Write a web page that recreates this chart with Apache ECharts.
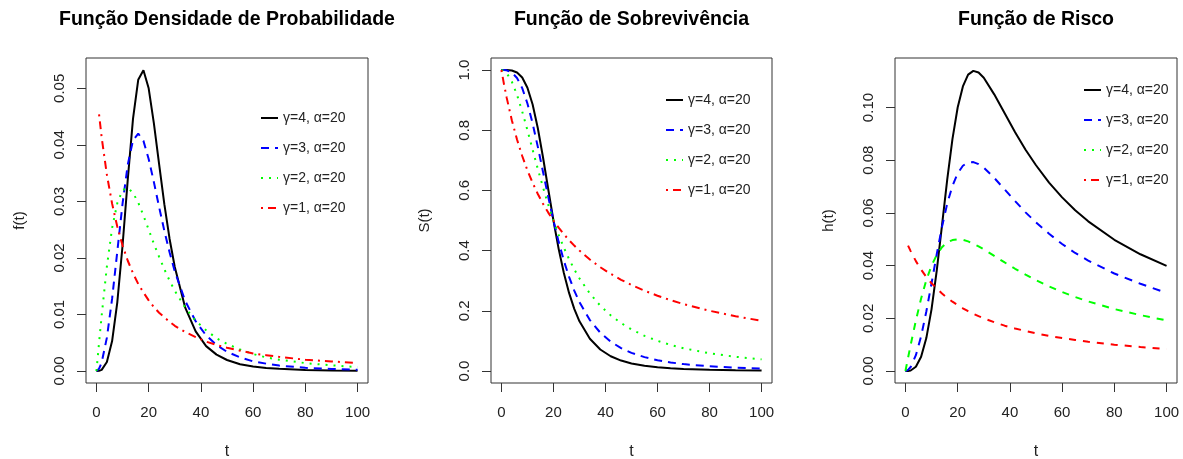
<!DOCTYPE html>
<html>
<head>
<meta charset="utf-8">
<title>Log-logística</title>
<script src="https://cdn.jsdelivr.net/npm/echarts@6/dist/echarts.min.js"></script>
<style>
  html, body { margin: 0; padding: 0; background: #fff; }
  #chart { width: 1183px; height: 459px; }
</style>
</head>
<body>
<div id="chart"></div>
<script>
// t values
const tValues = [0, 1, 2, 4, 6, 8, 10, 12, 14, 16, 18, 20, 22, 24, 26, 28, 30, 34, 38, 42, 46, 50, 55, 60, 65, 70, 80, 90, 100]

const seriesNames = ['γ=4, α=20', 'γ=3, α=20', 'γ=2, α=20', 'γ=1, α=20']

// densidade f(t)
const f4 = [0, 0.000025, 0.0002, 0.0016, 0.0053, 0.0122, 0.0222, 0.0339, 0.0446, 0.0515, 0.0532, 0.05, 0.0438, 0.0366, 0.0295, 0.0234, 0.0184, 0.0112, 0.0070, 0.0044, 0.0029, 0.00195, 0.0012, 0.0008, 0.00054, 0.00038, 0.00019, 0.00011, 0.00006]
const f3 = [0, 0.0004, 0.0015, 0.0059, 0.0128, 0.0212, 0.0296, 0.0365, 0.0408, 0.0420, 0.0407, 0.0375, 0.0334, 0.0290, 0.0248, 0.0210, 0.0176, 0.0124, 0.0088, 0.0063, 0.0046, 0.0034, 0.0024, 0.0017, 0.0013, 0.00096, 0.00057, 0.00036, 0.00023]
const f2 = [0, 0.0050, 0.0098, 0.0185, 0.0253, 0.0297, 0.0320, 0.0324, 0.0315, 0.0298, 0.0275, 0.0250, 0.0225, 0.0202, 0.0180, 0.0160, 0.0142, 0.0112, 0.0089, 0.0072, 0.0058, 0.0048, 0.0038, 0.0030, 0.0024, 0.0020, 0.0014, 0.0010, 0.0007]
const f1 = [null, 0.0454, 0.0413, 0.0347, 0.0296, 0.0255, 0.0222, 0.0195, 0.0173, 0.0154, 0.0139, 0.0125, 0.0113, 0.0103, 0.0095, 0.0087, 0.0080, 0.0069, 0.0060, 0.0052, 0.0046, 0.0041, 0.0036, 0.0031, 0.0028, 0.0025, 0.0020, 0.0017, 0.0014]

// sobrevivencia S(t)
const s4 = [1, 1, 0.9999, 0.9984, 0.9920, 0.9750, 0.9412, 0.8853, 0.8064, 0.7094, 0.6038, 0.5, 0.4058, 0.3254, 0.2593, 0.2065, 0.1649, 0.1069, 0.0713, 0.0489, 0.0345, 0.0250, 0.0172, 0.0122, 0.0089, 0.0066, 0.0039, 0.0024, 0.0016]
const s3 = [1, 0.9999, 0.9990, 0.9921, 0.9737, 0.9398, 0.8889, 0.8224, 0.7446, 0.6614, 0.5784, 0.5, 0.4290, 0.3666, 0.3128, 0.2671, 0.2286, 0.1691, 0.1272, 0.0975, 0.0759, 0.0602, 0.0459, 0.0357, 0.0283, 0.0228, 0.0154, 0.0109, 0.0079]
const s2 = [1, 0.9975, 0.9901, 0.9615, 0.9174, 0.8621, 0.8, 0.7353, 0.6711, 0.6098, 0.5525, 0.5, 0.4525, 0.4098, 0.3717, 0.3378, 0.3077, 0.2571, 0.2169, 0.1848, 0.1590, 0.1379, 0.1168, 0.1, 0.0865, 0.0755, 0.0588, 0.0471, 0.0385]
const s1 = [1, 0.9524, 0.9091, 0.8333, 0.7692, 0.7143, 0.6667, 0.625, 0.5882, 0.5556, 0.5263, 0.5, 0.4762, 0.4545, 0.4348, 0.4167, 0.4, 0.3704, 0.3448, 0.3226, 0.3030, 0.2857, 0.2667, 0.25, 0.2353, 0.2222, 0.2, 0.1818, 0.1667]

// risco h(t)
const h4 = [0, 0.00003, 0.0002, 0.0016, 0.0054, 0.0125, 0.0235, 0.0382, 0.0553, 0.0726, 0.0880, 0.1, 0.1080, 0.1125, 0.1139, 0.1133, 0.1113, 0.1050, 0.0978, 0.0906, 0.0840, 0.0781, 0.0715, 0.0659, 0.0610, 0.0568, 0.0498, 0.0443, 0.0399]
const h3 = [0, 0.0004, 0.0015, 0.0060, 0.0132, 0.0226, 0.0333, 0.0444, 0.0547, 0.0635, 0.0703, 0.075, 0.0779, 0.0792, 0.0793, 0.0785, 0.0772, 0.0733, 0.0689, 0.0645, 0.0602, 0.0564, 0.0521, 0.0482, 0.0448, 0.0419, 0.0370, 0.0331, 0.0296]
const h2 = [0, 0.0050, 0.0099, 0.0192, 0.0275, 0.0345, 0.04, 0.0441, 0.0470, 0.0488, 0.0497, 0.05, 0.0498, 0.0492, 0.0483, 0.0473, 0.0462, 0.0437, 0.0412, 0.0388, 0.0366, 0.0345, 0.0321, 0.03, 0.0281, 0.0264, 0.0235, 0.0212, 0.0192]
const h1 = [null, 0.0476, 0.0455, 0.0417, 0.0385, 0.0357, 0.0333, 0.0313, 0.0294, 0.0278, 0.0263, 0.025, 0.0238, 0.0227, 0.0217, 0.0208, 0.02, 0.0185, 0.0172, 0.0161, 0.0152, 0.0143, 0.0133, 0.0125, 0.0118, 0.0111, 0.01, 0.0091, 0.0083]

// tick labels
const xTicks = [0, 20, 40, 60, 80, 100]
const fTicks = [0, 0.01, 0.02, 0.03, 0.04, 0.05]
const sTicks = [0, 0.2, 0.4, 0.6, 0.8, 1.0]
const hTicks = [0, 0.02, 0.04, 0.06, 0.08, 0.10]

const fontFamily = 'Liberation Sans, Arial, sans-serif'
const textColor = '#222'
const colors = ['#000000', '#0000ff', '#00ff00', '#ff0000']
const dashNormal = ['solid', [8, 6], [2, 6], [2, 5, 8, 5]]
const dashRisk = ['solid', [8, 7], [7, 7], [7, 7]]

const panels = [
    { title: 'Função Densidade de Probabilidade', yName: 'f(t)', data: [f4, f3, f2, f1], ticks: fTicks, digits: 2,
      min: -0.00212, max: 0.05536, left: 86, width: 282, dash: dashNormal, legendLeft: 260, legendTop: 111 },
    { title: 'Função de Sobrevivência', yName: 'S(t)', data: [s4, s3, s2, s1], ticks: sTicks, digits: 1,
      min: -0.04, max: 1.04, left: 491, width: 281, dash: dashNormal, legendLeft: 665, legendTop: 93 },
    { title: 'Função de Risco', yName: 'h(t)', data: [h4, h3, h2, h1], ticks: hTicks, digits: 2,
      min: -0.00456, max: 0.1188, left: 895, width: 282, dash: dashRisk, legendLeft: 1083, legendTop: 83 }
]

const gridTop = 58
const gridHeight = 325

function pairs(values) {
    return tValues.map((t, i) => [t, values[i]]).filter(p => p[1] !== null)
}

const chart = echarts.init(document.getElementById('chart'), null, { renderer: 'canvas' })

const grid = []
const xAxis = []
const yAxis = []
const series = []
const legend = []
const graphic = []

panels.forEach((p, idx) => {
    grid.push({
        left: p.left, top: gridTop, width: p.width, height: gridHeight,
        outerBoundsMode: 'none', containLabel: false,
        show: true, borderColor: '#333', borderWidth: 1, backgroundColor: 'transparent'
    })
    xAxis.push({
        gridIndex: idx, type: 'value', min: -4, max: 104,
        axisLine: { show: false, onZero: false },
        axisTick: { show: true, inside: false, customValues: xTicks, length: 9, lineStyle: { color: '#333' } },
        axisLabel: { customValues: xTicks, fontSize: 15, color: textColor, margin: 22, fontFamily },
        splitLine: { show: false },
        name: 't', nameLocation: 'middle', nameGap: 61,
        nameTextStyle: { fontSize: 16, color: textColor, fontFamily }
    })
    yAxis.push({
        gridIndex: idx, type: 'value', min: p.min, max: p.max,
        axisLine: { show: false, onZero: false },
        axisTick: { show: true, inside: false, customValues: p.ticks, length: 9, lineStyle: { color: '#333' } },
        axisLabel: {
            customValues: p.ticks, rotate: 90, fontSize: 15, color: textColor, margin: 19, fontFamily,
            formatter: v => v.toFixed(p.digits)
        },
        splitLine: { show: false },
        name: p.yName, nameLocation: 'middle', nameRotate: 90, nameGap: 59,
        nameTextStyle: { fontSize: 15, color: textColor, fontFamily }
    })
    p.data.forEach((values, k) => {
        series.push({
            name: seriesNames[k],
            type: 'line',
            xAxisIndex: idx,
            yAxisIndex: idx,
            symbol: 'none',
            data: pairs(values),
            color: colors[k],
            lineStyle: { color: colors[k], width: 2, type: p.dash[k] },
            z: 2 + k
        })
    })
    legend.push({
        data: seriesNames,
        orient: 'vertical',
        left: p.legendLeft,
        top: p.legendTop,
        padding: 0,
        itemWidth: 17,
        itemHeight: 14,
        itemGap: 16,
        selectedMode: false,
        itemStyle: { opacity: 0 },
        textStyle: { fontSize: 14, color: textColor, fontFamily }
    })
    // titulo do painel
    graphic.push({
        type: 'text',
        x: p.left + p.width / 2,
        y: 20,
        style: {
            text: p.title, fontSize: 19.5, fontWeight: 'bold', fill: '#000', fontFamily,
            textAlign: 'center', textVerticalAlign: 'middle'
        }
    })
})

chart.setOption({
    animation: false,
    backgroundColor: '#fff',
    textStyle: { fontFamily },
    grid,
    xAxis,
    yAxis,
    legend,
    graphic,
    series
})
</script>
</body>
</html>
